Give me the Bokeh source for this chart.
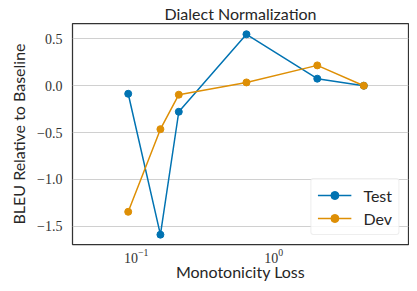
from bokeh.plotting import figure
from bokeh.models import Range1d, FixedTicker, LogTickFormatter, CustomJSTickFormatter, Legend, LegendItem
from bokeh.embed import file_html
from bokeh.resources import INLINE

# Data
mono_loss = [0.0875, 0.150, 0.204, 0.633, 2.07, 4.51]
test_bleu = [-0.086, -1.59, -0.278, 0.549, 0.075, 0.0]
dev_bleu = [-1.346, -0.464, -0.096, 0.035, 0.217, 0.0]
series_names = ["Test", "Dev"]
y_ticks = [-1.5, -1.0, -0.5, 0.0, 0.5]
x_ticks = [0.1, 1, 10]

BLUE = "#0173b2"
ORANGE = "#de8f05"
SANS = "Lato"
SERIF = "Liberation Serif"

p = figure(width=409, height=283, x_axis_type="log",
           x_range=Range1d(0.03445, 9.526), y_range=Range1d(-1.695, 0.664),
           output_backend="svg", toolbar_location=None,
           title="Dialect Normalization",
           min_border_left=72, min_border_right=1, min_border_top=16, min_border_bottom=0)

p.title.text_font = SANS
p.title.text_font_size = "16px"
p.title.text_font_style = "normal"
p.title.align = "center"
p.title.text_color = "#262626"
p.title.standoff = 2

p.outline_line_color = "#333333"
p.outline_line_width = 1.25
p.background_fill_color = "white"
p.border_fill_color = "white"

p.xgrid.grid_line_color = None
p.ygrid.grid_line_color = "#d0d0d0"
p.ygrid.grid_line_width = 1

for ax in (p.xaxis, p.yaxis):
    ax.axis_line_color = None
    ax.major_tick_line_color = None
    ax.minor_tick_line_color = None
    ax.major_tick_out = 0
    ax.major_tick_in = 0
    ax.minor_tick_out = 0
    ax.minor_tick_in = 0
    ax.major_label_text_font = SERIF
    ax.major_label_text_font_size = "14px"
    ax.major_label_text_color = "#333333"
    ax.axis_label_text_font = SANS
    ax.axis_label_text_font_size = "16px"
    ax.axis_label_text_font_style = "normal"
    ax.axis_label_text_color = "#262626"

p.xaxis.ticker = FixedTicker(ticks=x_ticks, minor_ticks=[])
p.xaxis.formatter = LogTickFormatter()
p.xaxis.axis_label = "Monotonicity Loss"
p.xaxis.major_label_standoff = 4
p.xaxis.axis_label_standoff = -4

p.yaxis.ticker = FixedTicker(ticks=y_ticks, minor_ticks=[])
p.yaxis.formatter = CustomJSTickFormatter(code="return tick.toFixed(1).replace('-', '\\u2212');")
p.yaxis.axis_label = "BLEU Relative to Baseline"
p.yaxis.major_label_standoff = 10
p.yaxis.axis_label_standoff = 6

l1 = p.line(mono_loss, test_bleu, line_color=BLUE, line_width=1.5)
c1 = p.scatter(mono_loss, test_bleu, size=7, fill_color=BLUE, line_color=BLUE)
l2 = p.line(mono_loss, dev_bleu, line_color=ORANGE, line_width=1.5)
c2 = p.scatter(mono_loss, dev_bleu, size=7, fill_color=ORANGE, line_color=ORANGE)

legend = Legend(items=[LegendItem(label=series_names[0], renderers=[l1, c1]),
                       LegendItem(label=series_names[1], renderers=[l2, c2])],
                location="bottom_right")
legend.label_text_font = SANS
legend.label_text_font_size = "16px"
legend.label_text_color = "#262626"
legend.border_line_color = "#dddddd"
legend.border_line_width = 1
legend.border_radius = 3
legend.background_fill_alpha = 0.8
legend.glyph_width = 34
legend.glyph_height = 20
legend.label_standoff = 12
legend.spacing = 3
legend.padding = 6
legend.margin = 9
p.add_layout(legend)

open("out.html", "w").write(file_html(p, INLINE))
